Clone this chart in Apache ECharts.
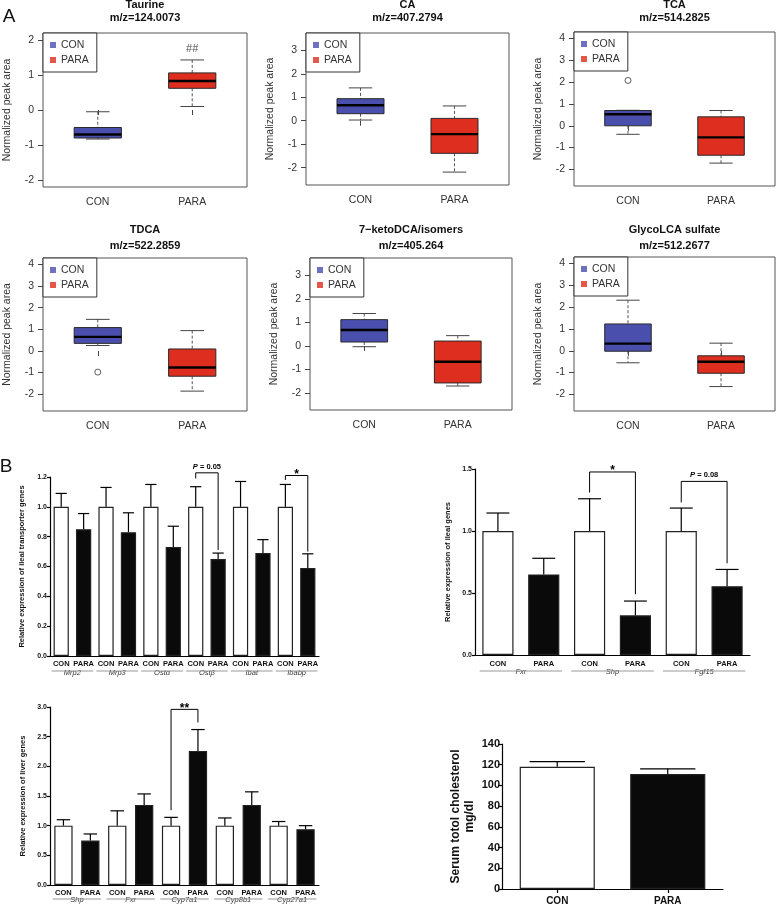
<!DOCTYPE html>
<html><head><meta charset="utf-8">
<script src="https://cdn.jsdelivr.net/npm/echarts@6/dist/echarts.min.js"></script>
<style>html,body{margin:0;padding:0;background:#fff}#c{width:778px;height:912px}</style>
</head><body><div id="c"></div>
<script>
// ---------------- DATA ----------------
const groups = ['CON', 'PARA'];
const metaboliteNames = ['Taurine', 'CA', 'TCA', 'TDCA', '7\u2212ketoDCA/isomers', 'GlycoLCA sulfate'];
const metaboliteMz = ['m/z=124.0073', 'm/z=407.2794', 'm/z=514.2825', 'm/z=522.2859', 'm/z=405.264', 'm/z=512.2677'];
// [lower whisker, Q1, median, Q3, upper whisker]
const taurineCon = [-0.83, -0.8, -0.7, -0.5, -0.05];
const taurinePara = [0.1, 0.62, 0.83, 1.06, 1.43];
const caCon = [0.03, 0.3, 0.66, 0.94, 1.4];
const caPara = [-2.19, -1.39, -0.57, 0.1, 0.63];
const tcaCon = [-0.39, 0.0, 0.53, 0.7, 0.71];
const tcaPara = [-1.71, -1.35, -0.53, 0.41, 0.7];
const tdcaCon = [0.25, 0.35, 0.65, 1.08, 1.46];
const tdcaPara = [-1.86, -1.17, -0.77, 0.09, 0.94];
const ketoCon = [-0.03, 0.17, 0.68, 1.12, 1.38];
const ketoPara = [-1.7, -1.57, -0.67, 0.21, 0.44];
const glycoCon = [-0.55, -0.02, 0.33, 1.23, 2.32];
const glycoPara = [-1.64, -1.03, -0.5, -0.23, 0.35];
const tcaConOutliers = [2.08];
const tdcaConOutliers = [-0.98];
const taurineMark = ['##', 1.75];
const yTicksTaurine = [-2, -1, 0, 1, 2];
const yTicksCA = [-2, -1, 0, 1, 2, 3];
const yTicksTCA = [-2, -1, 0, 1, 2, 3, 4];

const transporterGenes = ['Mrp2', 'Mrp3', 'Ost\u03b1', 'Ost\u03b2', 'Ibat', 'Ibabp'];
const transporterCon = [1, 1, 1, 1, 1, 1];
const transporterConSem = [0.09, 0.13, 0.15, 0.135, 0.17, 0.15];
const transporterPara = [0.85, 0.83, 0.73, 0.65, 0.69, 0.59];
const transporterParaSem = [0.105, 0.13, 0.14, 0.04, 0.09, 0.095];
const transporterTicks = [0, 0.2, 0.4, 0.6, 0.8, 1.0, 1.2];
// [left bar index, right bar index, top, left end, right end]
const transporterBrackets = [[6, 7, 1.228, 1.19, 0.71], [10, 11, 1.21, 1.18, 0.70]];
const transporterBracketLabels = ['P = 0.05', '*'];

const ilealGenes = ['Fxr', 'Shp', 'Fgf15'];
const ilealCon = [1, 1, 1];
const ilealConSem = [0.145, 0.26, 0.185];
const ilealPara = [0.65, 0.32, 0.555];
const ilealParaSem = [0.13, 0.115, 0.135];
const ilealTicks = [0, 0.5, 1.0, 1.5];
const ilealBrackets = [[2, 3, 1.476, 1.31, 0.49], [4, 5, 1.40, 1.23, 0.74]];
const ilealBracketLabels = ['*', 'P = 0.08'];

const liverGenes = ['Shp', 'Fxr', 'Cyp7a1', 'Cyp8b1', 'Cyp27a1'];
const liverCon = [1, 1, 1, 1, 1];
const liverConSem = [0.1, 0.25, 0.14, 0.13, 0.07];
const liverPara = [0.75, 1.35, 2.26, 1.35, 0.94];
const liverParaSem = [0.11, 0.185, 0.36, 0.22, 0.06];
const liverTicks = [0, 0.5, 1.0, 1.5, 2.0, 2.5, 3.0];
const liverBrackets = [[4, 5, 2.96, 1.26, 2.74]];
const liverBracketLabels = ['**'];

const serumGroups = ['CON', 'PARA'];
const serumValues = [118, 111];
const serumSem = [5, 5];
const serumTicks = [0, 20, 40, 60, 80, 100, 120, 140];

// ---------------- STYLE / LAYOUT ----------------
const FONT = 'Liberation Sans, Arial, Helvetica, sans-serif';
const BLUE = '#4a4fae';
const RED = '#dd2e1f';

const option = {
  animation: false,
  backgroundColor: '#fff',
  grid: [], xAxis: [], yAxis: [], series: [], legend: [], graphic: []
};

function txt(text, x, y, font, extra) {
  option.graphic.push({
    type: 'text', x: x, y: y, silent: true,
    style: Object.assign({ text: text, font: font, fill: '#111', align: 'center', verticalAlign: 'middle' }, extra || {})
  });
}

// ---------------- BOXPLOTS ----------------
const boxPanels = [
  { con: taurineCon, para: taurinePara, out: [], ticks: yTicksTaurine, yr: [-2.2, 2.2], box: [43, 33, 204, 154], ty: [5, 17.5], mark: taurineMark },
  { con: caCon, para: caPara, out: [], ticks: yTicksCA, yr: [-2.74, 3.74], box: [306, 33, 203, 152], ty: [5, 17.5] },
  { con: tcaCon, para: tcaPara, out: tcaConOutliers, ticks: yTicksTCA, yr: [-2.76, 4.3], box: [574, 32, 201, 154], ty: [5, 17.5] },
  { con: tdcaCon, para: tdcaPara, out: tdcaConOutliers, ticks: yTicksTCA, yr: [-2.78, 4.3], box: [43, 258, 204, 153], ty: [230, 246] },
  { con: ketoCon, para: ketoPara, out: [], ticks: yTicksCA, yr: [-2.72, 3.74], box: [310, 258, 202, 152], ty: [230, 246] },
  { con: glycoCon, para: glycoPara, out: [], ticks: yTicksTCA, yr: [-2.76, 4.3], box: [574, 257, 201, 154], ty: [230, 246] }
];

function renderBox(params, api) {
  const x = api.value(0);
  const lw = api.value(1), q1 = api.value(2), med = api.value(3), q3 = api.value(4), uw = api.value(5);
  const hw = 0.25, cw = 0.125;
  const tl = api.coord([x - hw, q3]), br = api.coord([x + hw, q1]);
  const m1 = api.coord([x - hw, med]), m2 = api.coord([x + hw, med]);
  const c = api.coord([x, uw]), cq3 = api.coord([x, q3]), cq1 = api.coord([x, q1]), cl = api.coord([x, lw]);
  const capU1 = api.coord([x - cw, uw]), capU2 = api.coord([x + cw, uw]);
  const capL1 = api.coord([x - cw, lw]), capL2 = api.coord([x + cw, lw]);
  const fill = params.dataIndex === 0 ? BLUE : RED;
  const dash = { stroke: '#555', lineWidth: 1, lineDash: [3, 2] };
  return {
    type: 'group', children: [
      { type: 'line', shape: { x1: c[0], y1: c[1], x2: cq3[0], y2: cq3[1] }, style: dash },
      { type: 'line', shape: { x1: cq1[0], y1: cq1[1], x2: cl[0], y2: cl[1] }, style: dash },
      { type: 'line', shape: { x1: capU1[0], y1: capU1[1], x2: capU2[0], y2: capU2[1] }, style: { stroke: '#444', lineWidth: 1 } },
      { type: 'line', shape: { x1: capL1[0], y1: capL1[1], x2: capL2[0], y2: capL2[1] }, style: { stroke: '#444', lineWidth: 1 } },
      { type: 'rect', shape: { x: tl[0], y: tl[1], width: br[0] - tl[0], height: br[1] - tl[1] }, style: { fill: fill, stroke: '#2a2a2a', lineWidth: 1 } },
      { type: 'line', shape: { x1: m1[0], y1: m1[1], x2: m2[0], y2: m2[1] }, style: { stroke: '#000', lineWidth: 2.4 } }
    ]
  };
}

boxPanels.forEach(function (p, k) {
  const [L, T, W, H] = p.box;
  option.grid.push({ left: L, top: T, width: W, height: H, show: true, borderColor: '#555', borderWidth: 1, backgroundColor: 'transparent' });
  option.xAxis.push({
    type: 'value', gridIndex: k, min: 0.42, max: 2.58,
    axisLine: { show: false }, splitLine: { show: false },
    axisTick: { show: true, customValues: [1, 2], length: 5, lineStyle: { color: '#444' } },
    axisLabel: { show: true, customValues: [1, 2], formatter: function (v) { return groups[Math.round(v) - 1]; }, fontSize: 10.5, fontFamily: FONT, color: '#333', margin: 10 }
  });
  option.yAxis.push({
    type: 'value', gridIndex: k, min: p.yr[0], max: p.yr[1],
    name: 'Normalized peak area', nameLocation: 'middle', nameGap: 30, nameRotate: 90,
    nameTextStyle: { fontSize: 10.5, fontFamily: FONT, color: '#333' },
    axisLine: { show: false }, splitLine: { show: false },
    axisTick: { show: true, customValues: p.ticks, length: 5, lineStyle: { color: '#444' } },
    axisLabel: { show: true, customValues: p.ticks, formatter: function (v) { return v < 0 ? '-' + Math.abs(v) : String(v); }, fontSize: 10.5, fontFamily: FONT, color: '#333', margin: 9 }
  });
  option.series.push({
    type: 'custom', xAxisIndex: k, yAxisIndex: k, renderItem: renderBox,
    data: [[1].concat(p.con), [2].concat(p.para)], silent: true, z: 3
  });
  if (p.out.length) {
    option.series.push({
      type: 'scatter', xAxisIndex: k, yAxisIndex: k, symbol: 'circle', symbolSize: 6,
      itemStyle: { color: '#fff', borderColor: '#333', borderWidth: 1 }, silent: true,
      data: p.out.map(function (v) { return [1, v]; }), z: 4
    });
  }
  if (p.mark) {
    option.series.push({
      type: 'scatter', xAxisIndex: k, yAxisIndex: k, symbolSize: 1, itemStyle: { color: 'rgba(0,0,0,0)' }, silent: true,
      label: { show: true, position: 'inside', formatter: p.mark[0], fontSize: 11, fontFamily: FONT, color: '#222' },
      data: [[2, p.mark[1]]]
    });
  }
  option.legend.push({
    left: L, top: T, orient: 'vertical', data: ['CON', 'PARA'], icon: 'rect', itemWidth: 6, itemHeight: 6, itemGap: 3,
    padding: [6, 8, 6, 7], borderColor: '#333', borderWidth: 1, borderRadius: 0, backgroundColor: '#fff',
    textStyle: { fontSize: 10.5, fontFamily: FONT, color: '#333', lineHeight: 12 }, selectedMode: false
  });
  const cx = L + W / 2;
  txt(metaboliteNames[k], cx, p.ty[0], 'bold 11px ' + FONT, { fill: '#111' });
  txt(metaboliteMz[k], cx, p.ty[1], 'bold 11px ' + FONT, { fill: '#111' });
});
option.series.push({ type: 'scatter', name: 'CON', xAxisIndex: 0, yAxisIndex: 0, data: [], itemStyle: { color: BLUE } });
option.series.push({ type: 'scatter', name: 'PARA', xAxisIndex: 0, yAxisIndex: 0, data: [], itemStyle: { color: RED } });

txt('A', 9, 17, '19px ' + FONT, { fill: '#111' });
txt('B', 6, 467, '19px ' + FONT, { fill: '#111' });

// ---------------- BAR CHARTS ----------------
function renderErr(capFrac) {
  return function (params, api) {
    const i = api.value(0);
    const base = api.coord([i, api.value(1)]);
    const top = api.coord([i, api.value(2)]);
    const half = api.size([1, 0])[0] * capFrac / 2;
    return {
      type: 'group', children: [
        { type: 'line', shape: { x1: base[0], y1: base[1], x2: top[0], y2: top[1] }, style: { stroke: '#000', lineWidth: 1.2 } },
        { type: 'line', shape: { x1: top[0] - half, y1: top[1], x2: top[0] + half, y2: top[1] }, style: { stroke: '#000', lineWidth: 1.2 } }
      ]
    };
  };
}
function renderBracket(labels, starSize, pSize) {
  return function (params, api) {
    const a = api.coord([api.value(0), api.value(2)]);
    const b = api.coord([api.value(1), api.value(2)]);
    const aEnd = api.coord([api.value(0), api.value(3)]);
    const bEnd = api.coord([api.value(1), api.value(4)]);
    const lab = labels[params.dataIndex];
    const isP = lab.charAt(0) === 'P';
    const textEl = isP ? {
      type: 'text', x: (a[0] + b[0]) / 2, y: a[1] - 2,
      style: { text: '{i|P}{n|' + lab.slice(1) + '}', align: 'center', verticalAlign: 'bottom',
        rich: { i: { fontStyle: 'italic', fontWeight: 'bold', fontSize: pSize, fontFamily: FONT, fill: '#000' }, n: { fontWeight: 'bold', fontSize: pSize, fontFamily: FONT, fill: '#000' } } }
    } : {
      type: 'text', x: (a[0] + b[0]) / 2, y: a[1] + starSize * 0.42,
      style: { text: lab, align: 'center', verticalAlign: 'bottom', font: 'bold ' + starSize + 'px ' + FONT, fill: '#000' }
    };
    return {
      type: 'group', children: [
        { type: 'polyline', shape: { points: [aEnd, a, b, bEnd] }, style: { stroke: '#000', lineWidth: 1, fill: null } },
        textEl
      ]
    };
  };
}
function renderUnderline(dy, frac) {
  return function (params, api) {
    const p = api.value(0);
    const c1 = api.coord([2 * p, 0]), c2 = api.coord([2 * p + 1, 0]);
    const s = api.size([1, 0])[0];
    const cx = (c1[0] + c2[0]) / 2;
    return { type: 'line', shape: { x1: cx - s * frac, y1: c1[1] + dy, x2: cx + s * frac, y2: c1[1] + dy }, style: { stroke: '#999', lineWidth: 1.2 } };
  };
}

function barPanel(cfg) {
  const g = option.grid.length;
  option.grid.push({ left: cfg.box[0], top: cfg.box[1], width: cfg.box[2], height: cfg.box[3] });
  const cats = [], vals = [], errs = [];
  cfg.con.forEach(function (v, i) {
    cats.push(groups[0]); cats.push(groups[1]);
    vals.push({ value: v, itemStyle: { color: '#fff' } });
    vals.push({ value: cfg.para[i], itemStyle: { color: '#0a0a0a' } });
    errs.push([2 * i, v, v + cfg.conSem[i]]);
    errs.push([2 * i + 1, cfg.para[i], cfg.para[i] + cfg.paraSem[i]]);
  });
  if (cfg.cats) { cats.length = 0; cfg.cats.forEach(function (c) { cats.push(c); }); }
  const xi = option.xAxis.length;
  option.xAxis.push({
    type: 'category', gridIndex: g, data: cats,
    axisLine: { show: true, lineStyle: { color: '#000', width: 1.2 } },
    axisTick: { show: !!cfg.xTicks, alignWithLabel: true, length: 4, lineStyle: { color: '#000', width: 1.2 } },
    axisLabel: { fontSize: cfg.xFont, fontWeight: 'bold', fontFamily: FONT, color: '#111', margin: cfg.xMargin, interval: 0 }
  });
  if (cfg.genes) {
    option.xAxis.push({
      type: 'category', gridIndex: g, data: cfg.genes, position: 'bottom', offset: cfg.geneOffset,
      axisLine: { show: false }, axisTick: { show: false },
      axisLabel: { fontSize: cfg.xFont, fontStyle: 'italic', fontFamily: FONT, color: '#333', margin: 0, interval: 0 }
    });
  }
  const yi = option.yAxis.length;
  const t = cfg.ticks;
  option.yAxis.push({
    type: 'value', gridIndex: g, min: t[0], max: t[t.length - 1], interval: t[1] - t[0],
    name: cfg.yName, nameLocation: 'middle', nameGap: cfg.nameGap, nameRotate: 90,
    nameTextStyle: { fontSize: cfg.nameFont, fontWeight: 'bold', fontFamily: FONT, color: '#111', lineHeight: cfg.nameFont + 2 },
    axisLine: { show: true, lineStyle: { color: '#000', width: 1.2 } },
    axisTick: { show: true, length: cfg.tickLen, lineStyle: { color: '#000', width: 1.2 } },
    splitLine: { show: false },
    axisLabel: { fontSize: cfg.yFont, fontWeight: 'bold', fontFamily: FONT, color: '#111', margin: cfg.yMargin,
      formatter: function (v) { return cfg.decimals ? v.toFixed(1) : String(v); } }
  });
  option.series.push({
    type: 'bar', xAxisIndex: xi, yAxisIndex: yi, barWidth: '68%', data: vals, silent: true,
    itemStyle: { borderColor: '#222', borderWidth: 1.2 }, z: 2
  });
  option.series.push({ type: 'custom', xAxisIndex: xi, yAxisIndex: yi, renderItem: renderErr(cfg.cap), data: errs, silent: true, z: 3 });
  if (cfg.brackets) {
    option.series.push({ type: 'custom', xAxisIndex: xi, yAxisIndex: yi, renderItem: renderBracket(cfg.bracketLabels, cfg.starSize, cfg.pSize), data: cfg.brackets, silent: true, clip: false, z: 4 });
  }
  if (cfg.genes) {
    option.series.push({ type: 'custom', xAxisIndex: xi, yAxisIndex: yi, renderItem: renderUnderline(cfg.ulDy, cfg.ulFrac), data: cfg.genes.map(function (_, i) { return [i]; }), silent: true, clip: false, z: 4 });
  }
}

barPanel({
  box: [50, 477, 269, 179], con: transporterCon, conSem: transporterConSem, para: transporterPara, paraSem: transporterParaSem,
  ticks: transporterTicks, decimals: true, genes: transporterGenes, geneOffset: 13, xFont: 7.5, xMargin: 4, yFont: 7, yMargin: 3, tickLen: 3,
  yName: 'Relative expression of ileal transporter genes', nameGap: 23, nameFont: 7.5, cap: 0.5,
  brackets: transporterBrackets, bracketLabels: transporterBracketLabels, starSize: 12, pSize: 7.5, ulDy: 15, ulFrac: 0.93
});
barPanel({
  box: [475, 469, 275, 186], con: ilealCon, conSem: ilealConSem, para: ilealPara, paraSem: ilealParaSem,
  ticks: ilealTicks, decimals: true, genes: ilealGenes, geneOffset: 13, xFont: 7.5, xMargin: 5, yFont: 7, yMargin: 3, tickLen: 3,
  yName: 'Relative expression of ileal genes', nameGap: 22, nameFont: 7.5, cap: 0.5,
  brackets: ilealBrackets, bracketLabels: ilealBracketLabels, starSize: 12, pSize: 7.5, ulDy: 16, ulFrac: 0.9
});
barPanel({
  box: [50, 707, 269, 178], con: liverCon, conSem: liverConSem, para: liverPara, paraSem: liverParaSem,
  ticks: liverTicks, decimals: true, genes: liverGenes, geneOffset: 11, xFont: 7.5, xMargin: 4, yFont: 7, yMargin: 3, tickLen: 3,
  yName: 'Relative expression of liver genes', nameGap: 22, nameFont: 7.5, cap: 0.5,
  brackets: liverBrackets, bracketLabels: liverBracketLabels, starSize: 12, pSize: 7.5, ulDy: 14, ulFrac: 0.9
});
barPanel({
  box: [502, 744, 221, 145], con: [serumValues[0]], conSem: [serumSem[0]], para: [serumValues[1]], paraSem: [serumSem[1]],
  cats: serumGroups, ticks: serumTicks, decimals: false, xTicks: true, xFont: 10, xMargin: 7, yFont: 11, yMargin: 2, tickLen: 4,
  yName: 'Serum totol cholesterol\nmg/dl', nameGap: 25, nameFont: 12, cap: 0.5
});

const chart = echarts.init(document.getElementById('c'), null, { renderer: 'canvas', width: 778, height: 912 });
chart.setOption(option);
</script></body></html>
